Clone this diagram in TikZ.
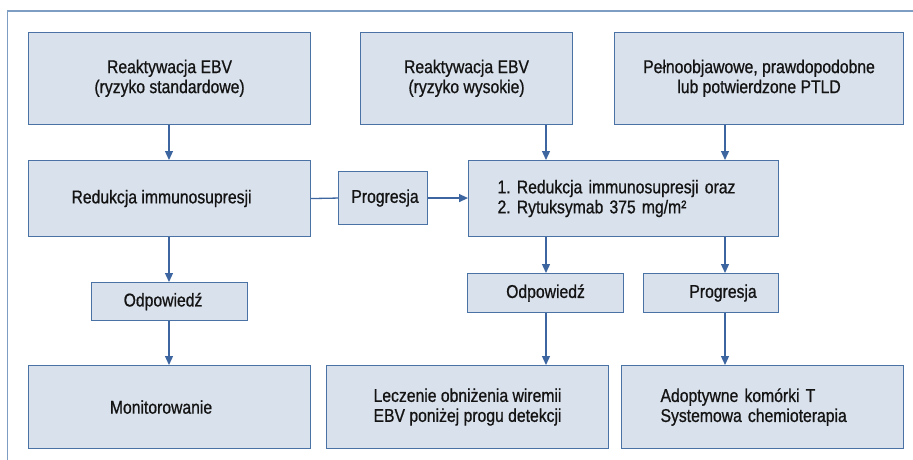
\documentclass[tikz,border=0pt]{standalone}
\usepackage{fontspec}
\setmainfont{Liberation Sans}[FakeStretch=0.85,FakeBold=0.8]
\usetikzlibrary{arrows.meta}
\definecolor{boxfill}{HTML}{D9E1EC}
\definecolor{boxline}{HTML}{4A72A4}
\definecolor{arrline}{HTML}{3D66A0}
\definecolor{frameline}{HTML}{7E9DC2}
\definecolor{txt}{HTML}{141414}
\frenchspacing
\begin{document}
\begin{tikzpicture}[x=1pt,y=-1pt,
  box/.style={draw=boxline,fill=boxfill,line width=1.1pt,anchor=north west,
    inner sep=0pt,align=center,text=txt,font=\fontsize{18.5}{20}\selectfont},
  arr/.style={draw=arrline,line width=1.3pt,-{Triangle[width=8pt,length=9pt]}},
  conn/.style={draw=arrline,line width=1.3pt}]
\useasboundingbox (0,0) rectangle (913,460);
\fill[white] (0,0) rectangle (913,460);
\coordinate (fA) at (7.5,460);
\coordinate (fB) at (7.5,11);
\coordinate (fC) at (913,11);
\draw[frameline,line width=1.8pt] (fA) -- (fB) -- (fC);
% top row
\node[box,minimum width=282pt,minimum height=91.5pt] (A) at (28,32)
  {Reaktywacja EBV\\(ryzyko standardowe)};
\node[box,minimum width=212pt,minimum height=91.5pt] (W) at (360,32)
  {Reaktywacja EBV\\(ryzyko wysokie)};
\node[box,minimum width=289pt,minimum height=91.5pt] (P) at (614,32)
  {Pełnoobjawowe, prawdopodobne\\lub potwierdzone PTLD};
% middle row
\node[box,minimum width=282pt,minimum height=76pt] (Red) at (28,160)
  {Redukcja immunosupresji\hspace{16pt}\mbox{}};
\node[box,minimum width=89pt,minimum height=53pt] (PM) at (338,171)
  {\mbox{}\hspace{4pt}Progresja};
\node[box,minimum width=310pt,minimum height=76pt,text width=252pt,align=left] (B) at (468,160)
  {1. Redukcja immunosupresji oraz\\2. Rytuksymab 375 mg/m²};
% response row
\node[box,minimum width=156pt,minimum height=38pt] (OL) at (91,282)
  {Odpowiedź\hspace{13pt}\mbox{}};
\node[box,minimum width=156pt,minimum height=39pt] (OM) at (467,273)
  {Odpowiedź};
\node[box,minimum width=135pt,minimum height=39pt] (PR) at (643,273)
  {\mbox{}\hspace{24pt}Progresja};
% bottom row
\node[box,minimum width=282pt,minimum height=83pt] (Mon) at (28,365)
  {Monitorowanie\hspace{17pt}\mbox{}};
\node[box,minimum width=282pt,minimum height=83pt] (Lec) at (326,365)
  {Leczenie obniżenia wiremii\\EBV poniżej progu detekcji};
\node[box,minimum width=282pt,minimum height=83pt,text width=204pt,align=left] (Ado) at (621,365)
  {Adoptywne komórki T\\Systemowa chemioterapia};
% columns
\coordinate (cL) at (169,0);
\coordinate (cM) at (546,0);
\coordinate (cR) at (725,0);
% arrows
\draw[arr] (A.south -| cL) -- (Red.north -| cL);
\draw[arr] (Red.south -| cL) -- (OL.north -| cL);
\draw[arr] (OL.south -| cL) -- (Mon.north -| cL);
\draw[conn] (Red.east) -- (PM.west);
\draw[arr] (PM.east) -- (PM.east -| B.west);
\draw[arr] (W.south -| cM) -- (B.north -| cM);
\draw[arr] (P.south -| cR) -- (B.north -| cR);
\draw[arr] (B.south -| cM) -- (OM.north -| cM);
\draw[arr] (B.south -| cR) -- (PR.north -| cR);
\draw[arr] (OM.south -| cM) -- (Lec.north -| cM);
\draw[arr] (PR.south -| cR) -- (Ado.north -| cR);
\end{tikzpicture}
\end{document}
